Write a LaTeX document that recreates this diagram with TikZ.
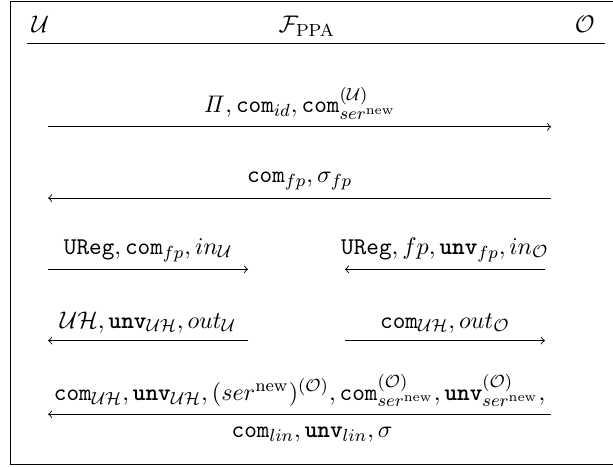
\documentclass[tikz,border=0pt]{standalone}
\usepackage{amsmath}
\usetikzlibrary{positioning}

\begin{document}
\begin{tikzpicture}[->, node distance=1.14cm, on grid, auto, font=\fontsize{10.95}{13.6}\selectfont]
	\useasboundingbox (0,0) rectangle (9.81,-7.46);
	\draw[-] (0.16,-0.02) rectangle (10.2,-7.44);

	% parties
	\node[anchor=base west] (U) at (0.38,-0.52) {$\mathcal{U}$};
	\node[anchor=base] (F) at (4.91,-0.52) {$\mathcal{F}_{\mathrm{PPA}}$};
	\node[anchor=base east] (O) at (9.64,-0.52) {$\mathcal{O}$};
	\node[coordinate] (hl) at (0.43,-0.70) {};
	\node[coordinate] (hr) [right=9.25cm of hl] {};
	\draw[-] (hl) -- (hr);

	% message ends
	\node[coordinate] (a1) at (0.77,-2.03) {};
	\node[coordinate] (b1) [right=8.05cm of a1] {};
	\node[coordinate] (a2) [below=of a1] {};
	\node[coordinate] (b2) [below=of b1] {};
	\node[coordinate] (a3) [below=of a2] {};
	\node[coordinate] (c3) [right=3.2cm of a3] {};
	\node[coordinate] (d3) [right=4.75cm of a3] {};
	\node[coordinate] (e3) [right=7.95cm of a3] {};
	\node[coordinate] (a4) [below=of a3] {};
	\node[coordinate] (c4) [right=3.2cm of a4] {};
	\node[coordinate] (d4) [right=4.75cm of a4] {};
	\node[coordinate] (e4) [right=7.95cm of a4] {};
	\node[coordinate] (a5) [below=1.18cm of a4] {};
	\node[coordinate] (b5) [right=8.05cm of a5] {};

	\path (a1) edge[] node[above] {$\mathit{\Pi}, \mathtt{com}_{id}, \mathtt{com}^{(\mathcal{U})}_{ser^{\mathrm{new}}}$} (b1);
	\path (b2) edge[] node[above] {$\mathtt{com}_{fp}, \sigma_{fp}$} (a2);
	\path (a3) edge[] node[above] {$\mathtt{UReg}, \mathtt{com}_{fp}, in_{\mathcal{U}}$} (c3);
	\path (e3) edge[] node[above] {$\mathtt{UReg}, fp, \text{\ttfamily\bfseries unv}_{fp}, in_{\mathcal{O}}$} (d3);
	\path (c4) edge[] node[above] {$\mathcal{UH}, \text{\ttfamily\bfseries unv}_{\mathcal{UH}}, out_{\mathcal{U}}$} (a4);
	\path (d4) edge[] node[above] {$\mathtt{com}_{\mathcal{UH}}, out_{\mathcal{O}}$} (e4);
	\path (b5) edge[] node[above] {$\mathtt{com}_{\mathcal{UH}}, \text{\ttfamily\bfseries unv}_{\mathcal{UH}}, (ser^{\mathrm{new}})^{(\mathcal{O})}, \mathtt{com}^{(\mathcal{O})}_{ser^{\mathrm{new}}}, \text{\ttfamily\bfseries unv}^{(\mathcal{O})}_{ser^{\mathrm{new}}},$}
		node[below, xshift=0.2cm, yshift=-0.08cm] {$\mathtt{com}_{lin}, \text{\ttfamily\bfseries unv}_{lin}, \sigma$} (a5);
\end{tikzpicture}
\end{document}
